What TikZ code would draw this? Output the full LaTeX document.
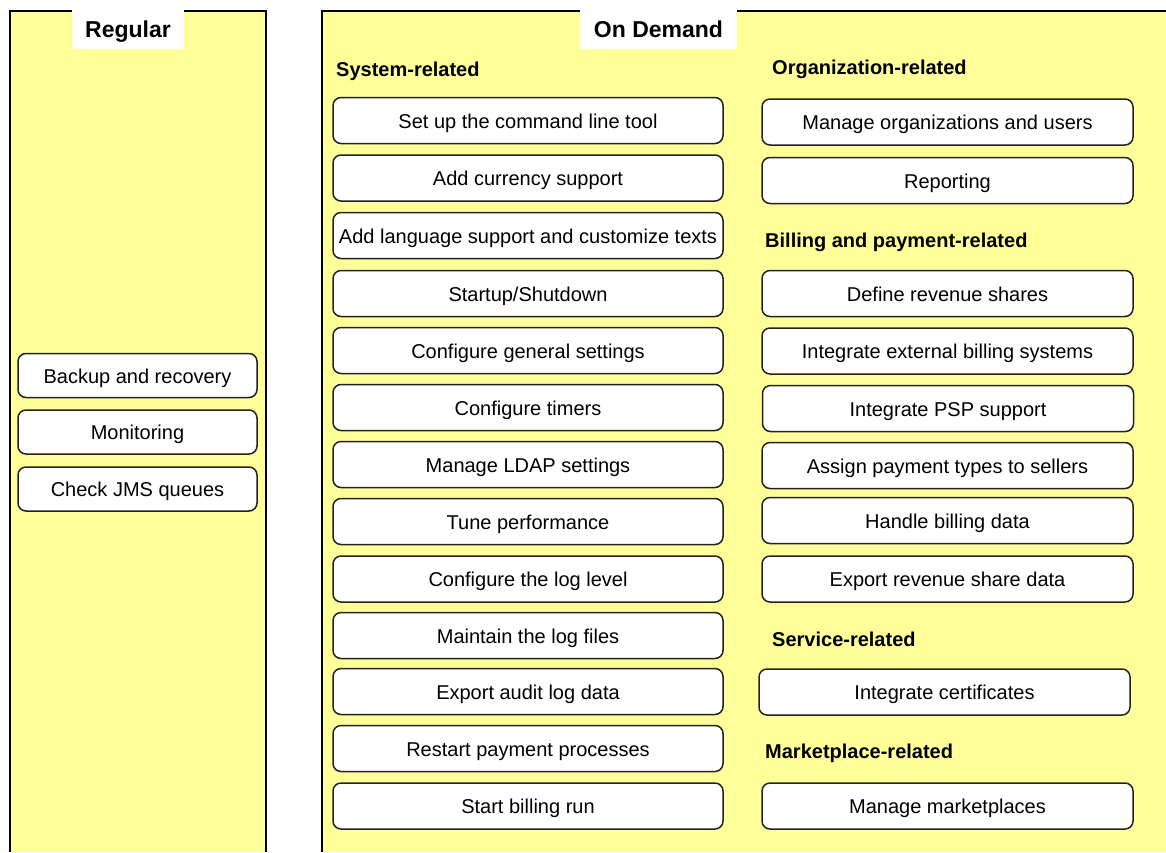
\documentclass[tikz,border=0pt]{standalone}
\usepackage{fontspec}
\setmainfont{Liberation Sans}
\definecolor{panelyellow}{HTML}{FFFF99}
\definecolor{edgegray}{HTML}{222222}
\tikzset{
  task/.style={draw=edgegray, line width=1.5pt, fill=white, rounded corners=8pt,
    minimum height=46pt, inner sep=0pt, text height=15pt, text depth=0pt,
    font=\fontsize{20}{24}\selectfont},
  midcol/.style={task, minimum width=390pt},
  rightcol/.style={task, minimum width=371pt},
  leftcol/.style={task, minimum width=239pt, minimum height=44pt},
  heading/.style={anchor=west, inner sep=0pt, font=\fontsize{20}{24}\selectfont\bfseries},
  paneltitle/.style={fill=white, inner sep=0pt, text height=16pt, text depth=0pt,
    font=\fontsize{23}{27}\selectfont\bfseries},
  panelfill/.style={fill=panelyellow},
  panelline/.style={draw=black, line width=1.5pt}
}
\begin{document}
\begin{tikzpicture}[x=1pt,y=-1pt]
\useasboundingbox (0,0) rectangle (1166,852);
\clip (0,0) rectangle (1166,852);
% panels
\fill[panelfill] (10,11) rectangle (266,852);
\draw[panelline] (10,852) -- (10,11) -- (266,11) -- (266,852);
\fill[panelfill] (322,11) rectangle (1166,852);
\draw[panelline] (322,852) -- (322,11) -- (1166,11);
% panel titles
\node[paneltitle, minimum width=112pt, minimum height=39pt] (regular) at (128,29) {Regular};
\node[paneltitle, minimum width=157pt, minimum height=39pt] (ondemand) at (658.5,29) {On Demand};
% left column
\node[leftcol] (backup) at (137.5,375.5) {Backup and recovery};
\node[leftcol] (monitor) at (137.5,432) {Monitoring};
\node[leftcol] (jms) at (137.5,489) {Check JMS queues};
% headings
\node[heading] (hsys) at (336,71) {System-related};
\node[heading] (horg) at (772,69.5) {Organization-related};
\node[heading] (hbill) at (765,242.5) {Billing and payment-related};
\node[heading] (hserv) at (772,639.5) {Service-related};
\node[heading] (hmkt) at (765,753.5) {Marketplace-related};
% middle column
\node[midcol] (m1) at (528,120.5) {Set up the command line tool};
\node[midcol] (m2) at (528,178) {Add currency support};
\node[midcol] (m3) at (528,235.5) {Add language support and customize texts};
\node[midcol] (m4) at (528,293.5) {Startup/Shutdown};
\node[midcol] (m5) at (528,350.5) {Configure general settings};
\node[midcol] (m6) at (528,407.5) {Configure timers};
\node[midcol] (m7) at (528,464.5) {Manage LDAP settings};
\node[midcol] (m8) at (528,521.5) {Tune performance};
\node[midcol] (m9) at (528,579) {Configure the log level};
\node[midcol] (m10) at (528,635.5) {Maintain the log files};
\node[midcol] (m11) at (528,691.5) {Export audit log data};
\node[midcol] (m12) at (528,748.5) {Restart payment processes};
\node[midcol] (m13) at (528,806) {Start billing run};
% right column
\node[rightcol] (r1) at (947.5,122) {Manage organizations and users};
\node[rightcol] (r2) at (947.5,180.5) {Reporting};
\node[rightcol] (r3) at (947.5,293.5) {Define revenue shares};
\node[rightcol] (r4) at (947.5,351) {Integrate external billing systems};
\node[rightcol] (r5) at (948,408.5) {Integrate PSP support};
\node[rightcol] (r6) at (947.5,465.5) {Assign payment types to sellers};
\node[rightcol] (r7) at (947.5,520.5) {Handle billing data};
\node[rightcol] (r8) at (947.5,579) {Export revenue share data};
\node[rightcol] (r9) at (944.5,692) {Integrate certificates};
\node[rightcol] (r10) at (947.5,806) {Manage marketplaces};
\end{tikzpicture}
\end{document}
